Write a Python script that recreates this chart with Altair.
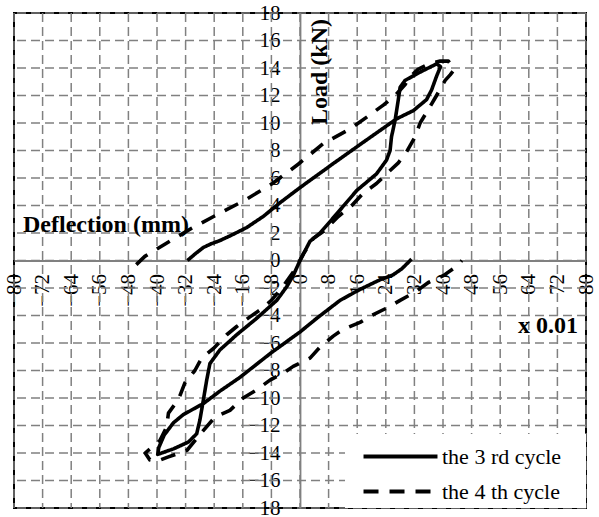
import altair as alt
import pandas as pd

# ---------------- data ----------------
series_names = ["the 3 rd cycle", "the 4 th cycle"]
x_ticks = list(range(-80, 81, 8))
y_ticks = list(range(-18, 19, 2))
titles = ["Load (kN)", "Deflection (mm)", "x 0.01"]

cycle3_x = [31.2, 28.5, 26.0, 22.4, 16.8, 11.2, 4.7, 0.0, -8.0, -16.8, -22.4, -27.0,
            -32.6, -35.4, -38.0, -39.5, -39.8, -35.4, -31.2, -28.9, -28.0, -27.0, -26.1,
            -25.2, -22.4, -17.7, -12.1, -6.5, -3.7, -1.9, 0.0, 2.8, 5.6, 10.3, 15.9, 21.4,
            24.2, 25.2, 25.6, 26.6, 27.5, 28.0, 29.4, 33.6, 38.2, 39.3, 38.2, 36.8, 35.4,
            31.7, 27.0, 17.7, 9.3, 0.0, -5.6, -10.3, -14.9, -18.7, -22.4, -25.0, -27.0,
            -29.0, -31.5]
cycle3_y = [0.1, -0.6, -1.05, -1.4, -2.1, -2.9, -4.2, -5.2, -6.7, -8.5, -9.5, -10.4,
            -11.2, -11.8, -12.7, -13.6, -14.1, -13.7, -13.2, -12.6, -11.6, -10.1, -8.7,
            -7.5, -6.5, -5.4, -4.2, -2.9, -1.9, -1.1, 0.0, 1.4, 2.0, 3.4, 5.1, 6.3,
            7.3, 8.0, 9.0, 10.2, 11.7, 12.6, 13.1, 13.7, 14.3, 14.1, 13.4, 12.4, 11.7,
            10.9, 10.3, 8.6, 7.05, 5.3, 4.2, 3.2, 2.4, 1.9, 1.45, 1.2, 0.95,
            0.55, 0.0]

cycle4_x = [-45.8, -43.4, -37.7, -30.3, -22.0, -15.3, -7.7, -0.5, 6.5, 14.2, 19.6, 23.3,
            26.6, 29.4, 30.5, 33.0, 36.0, 39.2, 41.5, 43.2, 42.0, 40.6, 38.2, 36.4, 33.6,
            32.2, 29.8, 27.5, 24.2, 21.4, 17.7, 14.5, 10.7, 6.5, 3.7, 1.0, -1.5, -4.5,
            -8.0, -11.2, -14.0, -17.7, -20.5, -24.2, -27.5, -29.4, -32.2, -34.0, -36.8,
            -37.3, -39.2, -41.5, -43.3, -42.0, -40.0, -37.0, -31.6, -27.5, -23.8, -19.6,
            -15.9, -12.1, -8.4, -4.7, -1.9, 2.8, 5.6, 9.3, 12.1, 16.8, 20.0, 24.7, 28.0,
            32.2, 35.9, 40.1, 43.4, 45.3]
cycle4_y = [-0.3, 0.3, 1.2, 2.35, 3.5, 4.4, 5.6, 7.0, 8.5, 9.6, 10.6, 11.3,
            12.0, 12.8, 13.3, 13.9, 14.3, 14.5, 14.5, 13.9, 13.5, 13.1, 12.0, 11.2, 10.0,
            9.0, 7.9, 7.1, 6.3, 5.6, 4.9, 4.0, 3.2, 2.1, 1.6, 0.5, -0.7, -1.8,
            -2.9, -3.6, -4.1, -4.8, -5.4, -6.4, -7.1, -8.0, -8.9, -10.1, -11.1,
            -12.1, -13.1, -13.6, -14.0, -14.5, -14.6, -14.3, -13.8, -12.5, -11.4, -10.9,
            -10.0, -9.4, -8.7, -8.2, -7.7, -7.1, -6.3, -5.5, -5.0, -4.5, -4.0, -3.4, -2.9,
            -2.3, -1.6, -1.1, -0.5, 0.0]

rows = []
for name, xs, ys in ((series_names[0], cycle3_x, cycle3_y),
                     (series_names[1], cycle4_x, cycle4_y)):
    for i, (xv, yv) in enumerate(zip(xs, ys)):
        rows.append({"cycle": name, "i": i, "x": xv, "y": yv})
df = pd.DataFrame(rows)

# ---------------- styling ----------------
W, H = 572, 495
FONT = "Liberation Serif"
GRID = "#808080"

xscale = alt.Scale(domain=[-80, 80], nice=False, zero=False)
yscale = alt.Scale(domain=[-18, 18], nice=False, zero=False)

x_axis = alt.Axis(values=x_ticks, title=None, grid=False, ticks=False, tickSize=0,
                  domainColor=GRID, domainWidth=1.8, offset=-H / 2,
                  labelAngle=270, labelAlign="right", labelBaseline="middle",
                  labelPadding=13, labelFont=FONT, labelFontSize=21, labelColor="black",
                  labelOverlap=False, labelFlush=False)
y_axis = alt.Axis(values=y_ticks, title=None, grid=False, ticks=False, tickSize=0,
                  domainColor=GRID, domainWidth=1.8, offset=-W / 2,
                  labelPadding=20, labelFont=FONT, labelFontSize=21, labelColor="black",
                  labelOverlap=False, labelFlush=False)

grid_x = alt.Chart(pd.DataFrame({"v": x_ticks})).mark_rule(
    color=GRID, strokeWidth=1.5, strokeDash=[9, 5]
).encode(x=alt.X("v:Q", scale=xscale, axis=x_axis))

grid_y = alt.Chart(pd.DataFrame({"v": y_ticks})).mark_rule(
    color=GRID, strokeWidth=1.5, strokeDash=[9, 5]
).encode(y=alt.Y("v:Q", scale=yscale, axis=y_axis))

# white panel behind the legend (legend box)
legend_bg = alt.Chart(pd.DataFrame({"k": [0]})).mark_rect(color="white").encode(
    x=alt.value(331), x2=alt.value(W), y=alt.value(421), y2=alt.value(H)
)

lines = alt.Chart(df).mark_line(color="black", strokeWidth=3.6, strokeJoin="round").encode(
    x=alt.X("x:Q", scale=xscale, axis=x_axis),
    y=alt.Y("y:Q", scale=yscale, axis=y_axis),
    strokeDash=alt.StrokeDash(
        "cycle:N",
        scale=alt.Scale(domain=series_names, range=[[1, 0], [15, 11]]),
        legend=alt.Legend(title=None, orient="none", legendX=349, legendY=432,
                          padding=0, symbolType="M-4,0L4,0",
                          symbolSize=342, symbolStrokeWidth=4, symbolOffset=26,
                          symbolStrokeColor="black", labelFont=FONT,
                          labelFontSize=22, labelColor="black", labelOffset=30,
                          rowPadding=12),
    ),
    order=alt.Order("i:Q"),
)


def annotation(text, x, y, **kw):
    return alt.Chart(pd.DataFrame({"t": [text]})).mark_text(
        font=FONT, fontSize=24, fontWeight="bold", color="black", **kw
    ).encode(text="t:N", x=alt.value(x), y=alt.value(y))


t_load = annotation(titles[0], 313, 59, angle=270, align="center", baseline="alphabetic")
t_defl = annotation(titles[1], 9, 219, align="left", baseline="alphabetic")
t_scale = annotation(titles[2], 564, 320, align="right", baseline="alphabetic")

chart = alt.layer(grid_x, grid_y, legend_bg, lines, t_load, t_defl, t_scale).properties(
    width=W, height=H,
    autosize=alt.AutoSizeParams(type="none"),
    padding={"left": 14, "top": 13, "right": 13, "bottom": 9},
    background="white",
).configure_view(
    stroke="black", strokeWidth=2
).configure_axis(
    labelFont=FONT, labelFontSize=21, labelColor="black"
).configure_legend(
    labelFont=FONT, labelFontSize=22, labelColor="black"
)

chart.save("out.html", embed_options={"renderer": "svg", "actions": False})
